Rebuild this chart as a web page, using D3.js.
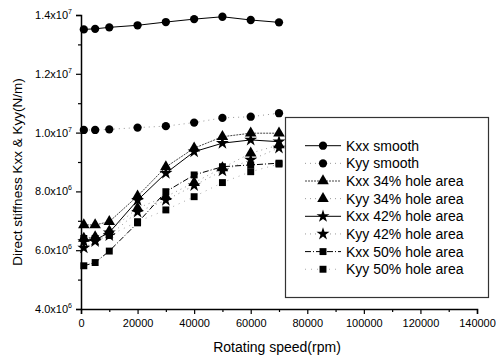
<!DOCTYPE html>
<html>
<head>
<meta charset="utf-8">
<script src="https://cdn.jsdelivr.net/npm/d3@7"></script>
<style>
  body { margin: 0; background: #fff; }
  text { font-family: Arial, "Liberation Sans", sans-serif; fill: #000; }
</style>
</head>
<body>
<script>
// rotating speed (rpm)
var speeds = [1000, 5000, 10000, 20000, 30000, 40000, 50000, 60000, 70000];

// direct stiffness (N/m)
var kxxSmooth = [1.351e7, 1.353e7, 1.358e7, 1.365e7, 1.376e7, 1.386e7, 1.394e7, 1.383e7, 1.375e7];
var kyySmooth = [1.009e7, 1.009e7, 1.011e7, 1.017e7, 1.022e7, 1.034e7, 1.050e7, 1.054e7, 1.066e7];
var kxx34 = [6.86e6, 6.86e6, 6.97e6, 7.84e6, 8.83e6, 9.47e6, 9.86e6, 9.98e6, 9.98e6];
var kyy34 = [6.40e6, 6.45e6, 6.65e6, 7.43e6, 7.82e6, 8.30e6, 8.80e6, 9.30e6, 9.58e6];
var kxx42 = [6.30e6, 6.35e6, 6.60e6, 7.70e6, 8.62e6, 9.35e6, 9.64e6, 9.75e6, 9.69e6];
var kyy42 = [6.08e6, 6.30e6, 6.50e6, 7.30e6, 7.70e6, 8.20e6, 8.70e6, 9.07e6, 9.48e6];
var kxx50 = [5.47e6, 5.58e6, 5.97e6, 6.93e6, 7.99e6, 8.56e6, 8.84e6, 8.90e6, 8.96e6];
var kyy50 = [6.40e6, 6.40e6, 6.50e6, 6.97e6, 7.37e6, 7.82e6, 8.30e6, 8.67e6, 8.93e6];

var seriesNames = ['Kxx smooth', 'Kyy smooth', 'Kxx 34% hole area', 'Kyy 34% hole area',
                   'Kxx 42% hole area', 'Kyy 42% hole area', 'Kxx 50% hole area', 'Kyy 50% hole area'];

var xTicks = [0, 20000, 40000, 60000, 80000, 100000, 120000, 140000];
var yTicks = [4e6, 6e6, 8e6, 1e7, 1.2e7, 1.4e7];
var yTickMantissa = ['4.0', '6.0', '8.0', '1.0', '1.2', '1.4'];
var yTickExponent = ['6', '6', '6', '7', '7', '7'];

// styles for each series: symbol, line dash, line colour
var styles = [
  { sym: d3.symbolCircle,   size: 54, dash: null,        stroke: '#000' },
  { sym: d3.symbolCircle,   size: 54, dash: '1,4',       stroke: '#999' },
  { sym: d3.symbolTriangle, size: 58, dash: '2,1',       stroke: '#444' },
  { sym: d3.symbolTriangle, size: 58, dash: '1,4',       stroke: '#999' },
  { sym: d3.symbolStar,     size: 52, dash: null,        stroke: '#000' },
  { sym: d3.symbolStar,     size: 52, dash: '1,4',       stroke: '#999' },
  { sym: d3.symbolSquare,   size: 48, dash: '6,2,1,2',   stroke: '#000' },
  { sym: d3.symbolSquare,   size: 48, dash: '1,5',       stroke: '#aaa' }
];

var allValues = [kxxSmooth, kyySmooth, kxx34, kyy34, kxx42, kyy42, kxx50, kyy50];

var W = 496, H = 359;
var svg = d3.select('body').append('svg').attr('width', W).attr('height', H);

var x = d3.scaleLinear().domain([0, 140000]).range([81, 477]);
var y = d3.scaleLinear().domain([4e6, 1.4e7]).range([309, 15]);

// x axis, major + minor ticks
var xAxisG = svg.append('g').attr('transform', 'translate(0,309)')
  .call(d3.axisBottom(x).tickValues(xTicks).tickSize(5).tickFormat(d3.format('d')));
svg.append('g').attr('transform', 'translate(0,309)')
  .call(d3.axisBottom(x).tickValues(d3.range(10000, 140000, 20000)).tickSize(3).tickFormat(''))
  .select('.domain').remove();
xAxisG.selectAll('text').attr('font-size', 11).attr('dy', '0.9em');

// y axis, major + minor ticks
svg.append('g').attr('transform', 'translate(81,0)')
  .call(d3.axisLeft(y).tickValues(yTicks).tickSize(5).tickFormat(''));
svg.append('g').attr('transform', 'translate(81,0)')
  .call(d3.axisLeft(y).tickValues(d3.range(5e6, 1.4e7, 2e6)).tickSize(3).tickFormat(''))
  .select('.domain').remove();

svg.selectAll('.domain').attr('stroke', '#000').attr('stroke-width', 1.5);
svg.selectAll('.tick line').attr('stroke', '#000').attr('stroke-width', 1.2);

var yLab = svg.append('g').selectAll('text').data(yTicks).join('text')
  .attr('x', 72).attr('y', function(d) { return y(d) + 4; })
  .attr('text-anchor', 'end').attr('font-size', 11);
yLab.append('tspan').text(function(d, i) { return yTickMantissa[i] + 'x10'; });
yLab.append('tspan').attr('font-size', 7).attr('dy', -5)
  .text(function(d, i) { return yTickExponent[i]; });

// axis titles
svg.append('text').attr('x', 277).attr('y', 352).attr('text-anchor', 'middle')
  .attr('font-size', 14).text('Rotating speed(rpm)');
svg.append('text').attr('transform', 'translate(22,172) rotate(-90)')
  .attr('text-anchor', 'middle').attr('font-size', 13.5)
  .text('Direct stiffness Kxx & Kyy(N/m)');

// series
var line = d3.line().x(function(d) { return x(d[0]); }).y(function(d) { return y(d[1]); });

allValues.forEach(function(vals, i) {
  var st = styles[i];
  var pts = speeds.map(function(s, j) { return [s, vals[j]]; });
  var g = svg.append('g');
  g.append('path').datum(pts).attr('d', line)
    .attr('fill', 'none').attr('stroke', st.stroke).attr('stroke-width', 1)
    .attr('stroke-dasharray', st.dash);
  g.selectAll('path.pt').data(pts).join('path').attr('class', 'pt')
    .attr('transform', function(d) { return 'translate(' + x(d[0]) + ',' + y(d[1]) + ')'; })
    .attr('d', d3.symbol().type(st.sym).size(st.size))
    .attr('fill', '#000');
});

// legend
var legend = svg.append('g');
legend.append('rect').attr('x', 285.5).attr('y', 117.5).attr('width', 203).attr('height', 180)
  .attr('fill', '#fff').attr('stroke', '#333').attr('stroke-width', 1.2);
seriesNames.forEach(function(name, i) {
  var st = styles[i];
  var cy = 145.7 + i * 17.65;
  legend.append('line').attr('x1', 305).attr('x2', 341).attr('y1', cy).attr('y2', cy)
    .attr('stroke', st.stroke).attr('stroke-width', 1).attr('stroke-dasharray', st.dash);
  legend.append('path').attr('transform', 'translate(323,' + cy + ')')
    .attr('d', d3.symbol().type(st.sym).size(st.size)).attr('fill', '#000');
  legend.append('text').attr('x', 346).attr('y', cy + 5).attr('font-size', 14).text(name);
});
</script>
</body>
</html>
